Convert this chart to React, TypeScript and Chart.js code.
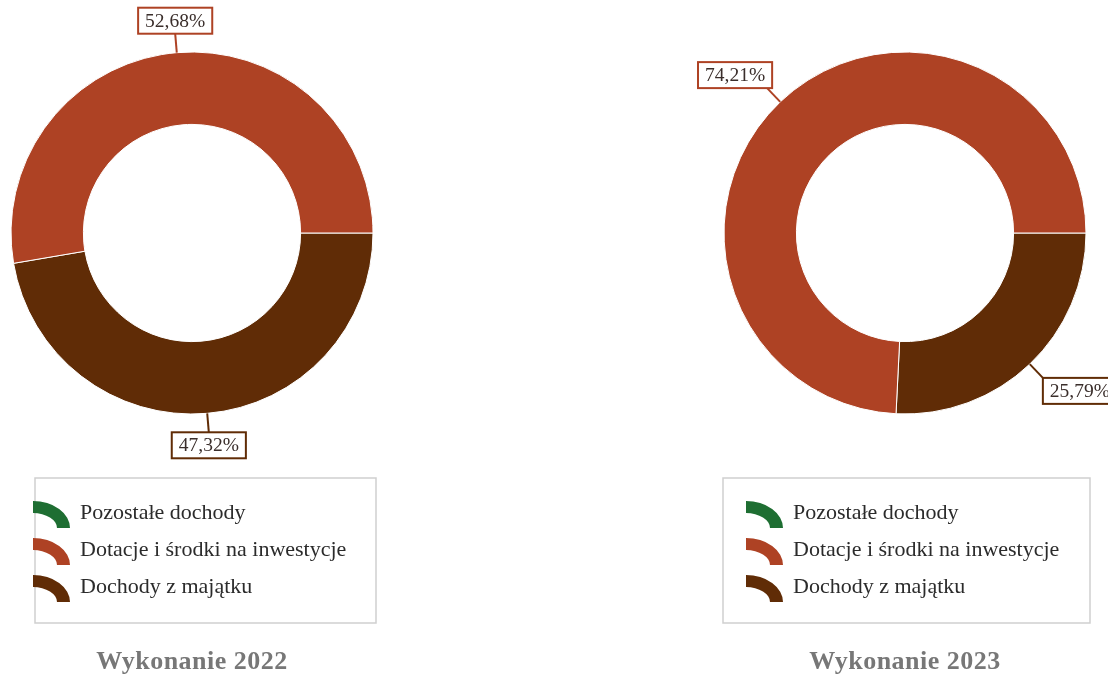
import React, { useEffect, useRef } from 'react';
import { Chart, registerables } from 'chart.js';

Chart.register(...registerables);

// ---- data ----
const categories = ['Pozostałe dochody', 'Dotacje i środki na inwestycje', 'Dochody z majątku'];
const colors = ['#1E6E32', '#AE4224', '#602C06'];
const values2022 = [0, 52.68, 47.32];
const values2023 = [0, 74.21, 25.79];
const titles = ['Wykonanie 2022', 'Wykonanie 2023'];

// ---- layout ----
const W = 554;
const H = 675;
const R = 181;
const CY = 233;
type Layout = { cx: number; box: [number, number, number, number]; iconX: number; textX: number };
const layouts: Layout[] = [
  { cx: 192, box: [35, 478, 341, 145], iconX: 33, textX: 80 },
  { cx: 351, box: [169, 478, 367, 145], iconX: 192, textX: 239 },
];
const rowY = [513, 550, 587];

const fmt = (v: number) => v.toFixed(2).replace('.', ',') + '%';

function makePlugin(idx: number) {
  const lay = layouts[idx];
  return {
    id: 'customDraw' + idx,
    afterDraw(chart: any) {
      const ctx: CanvasRenderingContext2D = chart.ctx;
      const ds = chart.data.datasets[0];
      const meta = chart.getDatasetMeta(0);
      ctx.save();
      // value labels with leader lines
      meta.data.forEach((arc: any, i: number) => {
        const v = ds.data[i] as number;
        if (!v) return;
        const p = arc.getProps(['x', 'y', 'startAngle', 'endAngle', 'outerRadius'], true);
        const mid = (p.startAngle + p.endAngle) / 2;
        const dx = Math.cos(mid);
        const dy = Math.sin(mid);
        const x0 = p.x + dx * p.outerRadius;
        const y0 = p.y + dy * p.outerRadius;
        const x1 = x0 + dx * 19;
        const y1 = y0 + dy * 19;
        const col = ds.backgroundColor[i];
        ctx.strokeStyle = col;
        ctx.lineWidth = 2;
        ctx.beginPath();
        ctx.moveTo(x0, y0);
        ctx.lineTo(x1, y1);
        ctx.stroke();
        ctx.font = '19.5px "Liberation Serif", "Times New Roman", serif';
        const text = fmt(v);
        const tw = ctx.measureText(text).width;
        const bw = tw + 14;
        const bh = 26;
        let bx: number;
        if (Math.abs(dx) < 0.35) bx = x1 - bw / 2;
        else if (dx < 0) bx = x1 + 5 - bw;
        else bx = x1;
        const by = dy < 0 ? y1 - bh : y1;
        ctx.fillStyle = '#ffffff';
        ctx.fillRect(bx, by, bw, bh);
        ctx.strokeRect(bx, by, bw, bh);
        ctx.fillStyle = '#3a2e2b';
        ctx.textAlign = 'center';
        ctx.textBaseline = 'middle';
        ctx.fillText(text, bx + bw / 2, by + bh / 2 + 1);
      });
      // legend box
      const [lx, ly, lw, lh] = lay.box;
      ctx.strokeStyle = '#cfcfcf';
      ctx.lineWidth = 1.5;
      ctx.strokeRect(lx, ly, lw, lh);
      categories.forEach((c, i) => {
        const cy = rowY[i] + 15;
        const cx = lay.iconX;
        ctx.fillStyle = colors[i];
        ctx.beginPath();
        ctx.ellipse(cx, cy, 37, 27, 0, -Math.PI / 2, 0);
        ctx.ellipse(cx, cy, 24, 15, 0, 0, -Math.PI / 2, true);
        ctx.closePath();
        ctx.fill();
        ctx.fillStyle = '#2b2b2b';
        ctx.font = '22px "Liberation Serif", "Times New Roman", serif';
        ctx.textAlign = 'left';
        ctx.textBaseline = 'middle';
        ctx.fillText(c, lay.textX, rowY[i]);
      });
      // title
      ctx.fillStyle = '#777777';
      ctx.font = 'bold 26px "Liberation Serif", "Times New Roman", serif';
      (ctx as any).letterSpacing = '0.5px';
      ctx.textAlign = 'center';
      ctx.textBaseline = 'middle';
      ctx.fillText(titles[idx], lay.cx, 662);
      (ctx as any).letterSpacing = '0px';
      ctx.restore();
    },
  };
}

function DonutChart({ idx, values }: { idx: number; values: number[] }) {
  const ref = useRef<HTMLCanvasElement | null>(null);
  useEffect(() => {
    if (!ref.current) return;
    const lay = layouts[idx];
    // Chart.js draws clockwise; the reference runs counter-clockwise from 3 o'clock,
    // so the slices are fed in reverse order.
    const chart = new Chart(ref.current, {
      type: 'doughnut',
      data: {
        labels: [...categories].reverse(),
        datasets: [
          {
            data: [...values].reverse(),
            backgroundColor: [...colors].reverse(),
            borderColor: '#ffffff',
            borderWidth: 1,
            hoverOffset: 0,
          },
        ],
      },
      options: {
        responsive: false,
        animation: false,
        rotation: 90,
        cutout: '60%',
        radius: R,
        layout: {
          padding: {
            left: lay.cx - R,
            right: W - (lay.cx + R),
            top: CY - R,
            bottom: H - (CY + R),
          },
        },
        plugins: {
          legend: { display: false },
          tooltip: { enabled: false },
          title: { display: false },
        },
      },
      plugins: [makePlugin(idx)],
    });
    return () => chart.destroy();
  }, [idx, values]);
  return <canvas ref={ref} width={W} height={H} style={{ width: W, height: H, display: 'block' }} />;
}

export default function App() {
  return (
    <div
      style={{
        position: 'absolute',
        left: 0,
        top: 0,
        width: 1108,
        height: 675,
        display: 'flex',
        background: '#ffffff',
        overflow: 'hidden',
      }}
    >
      <DonutChart idx={0} values={values2022} />
      <DonutChart idx={1} values={values2023} />
    </div>
  );
}
